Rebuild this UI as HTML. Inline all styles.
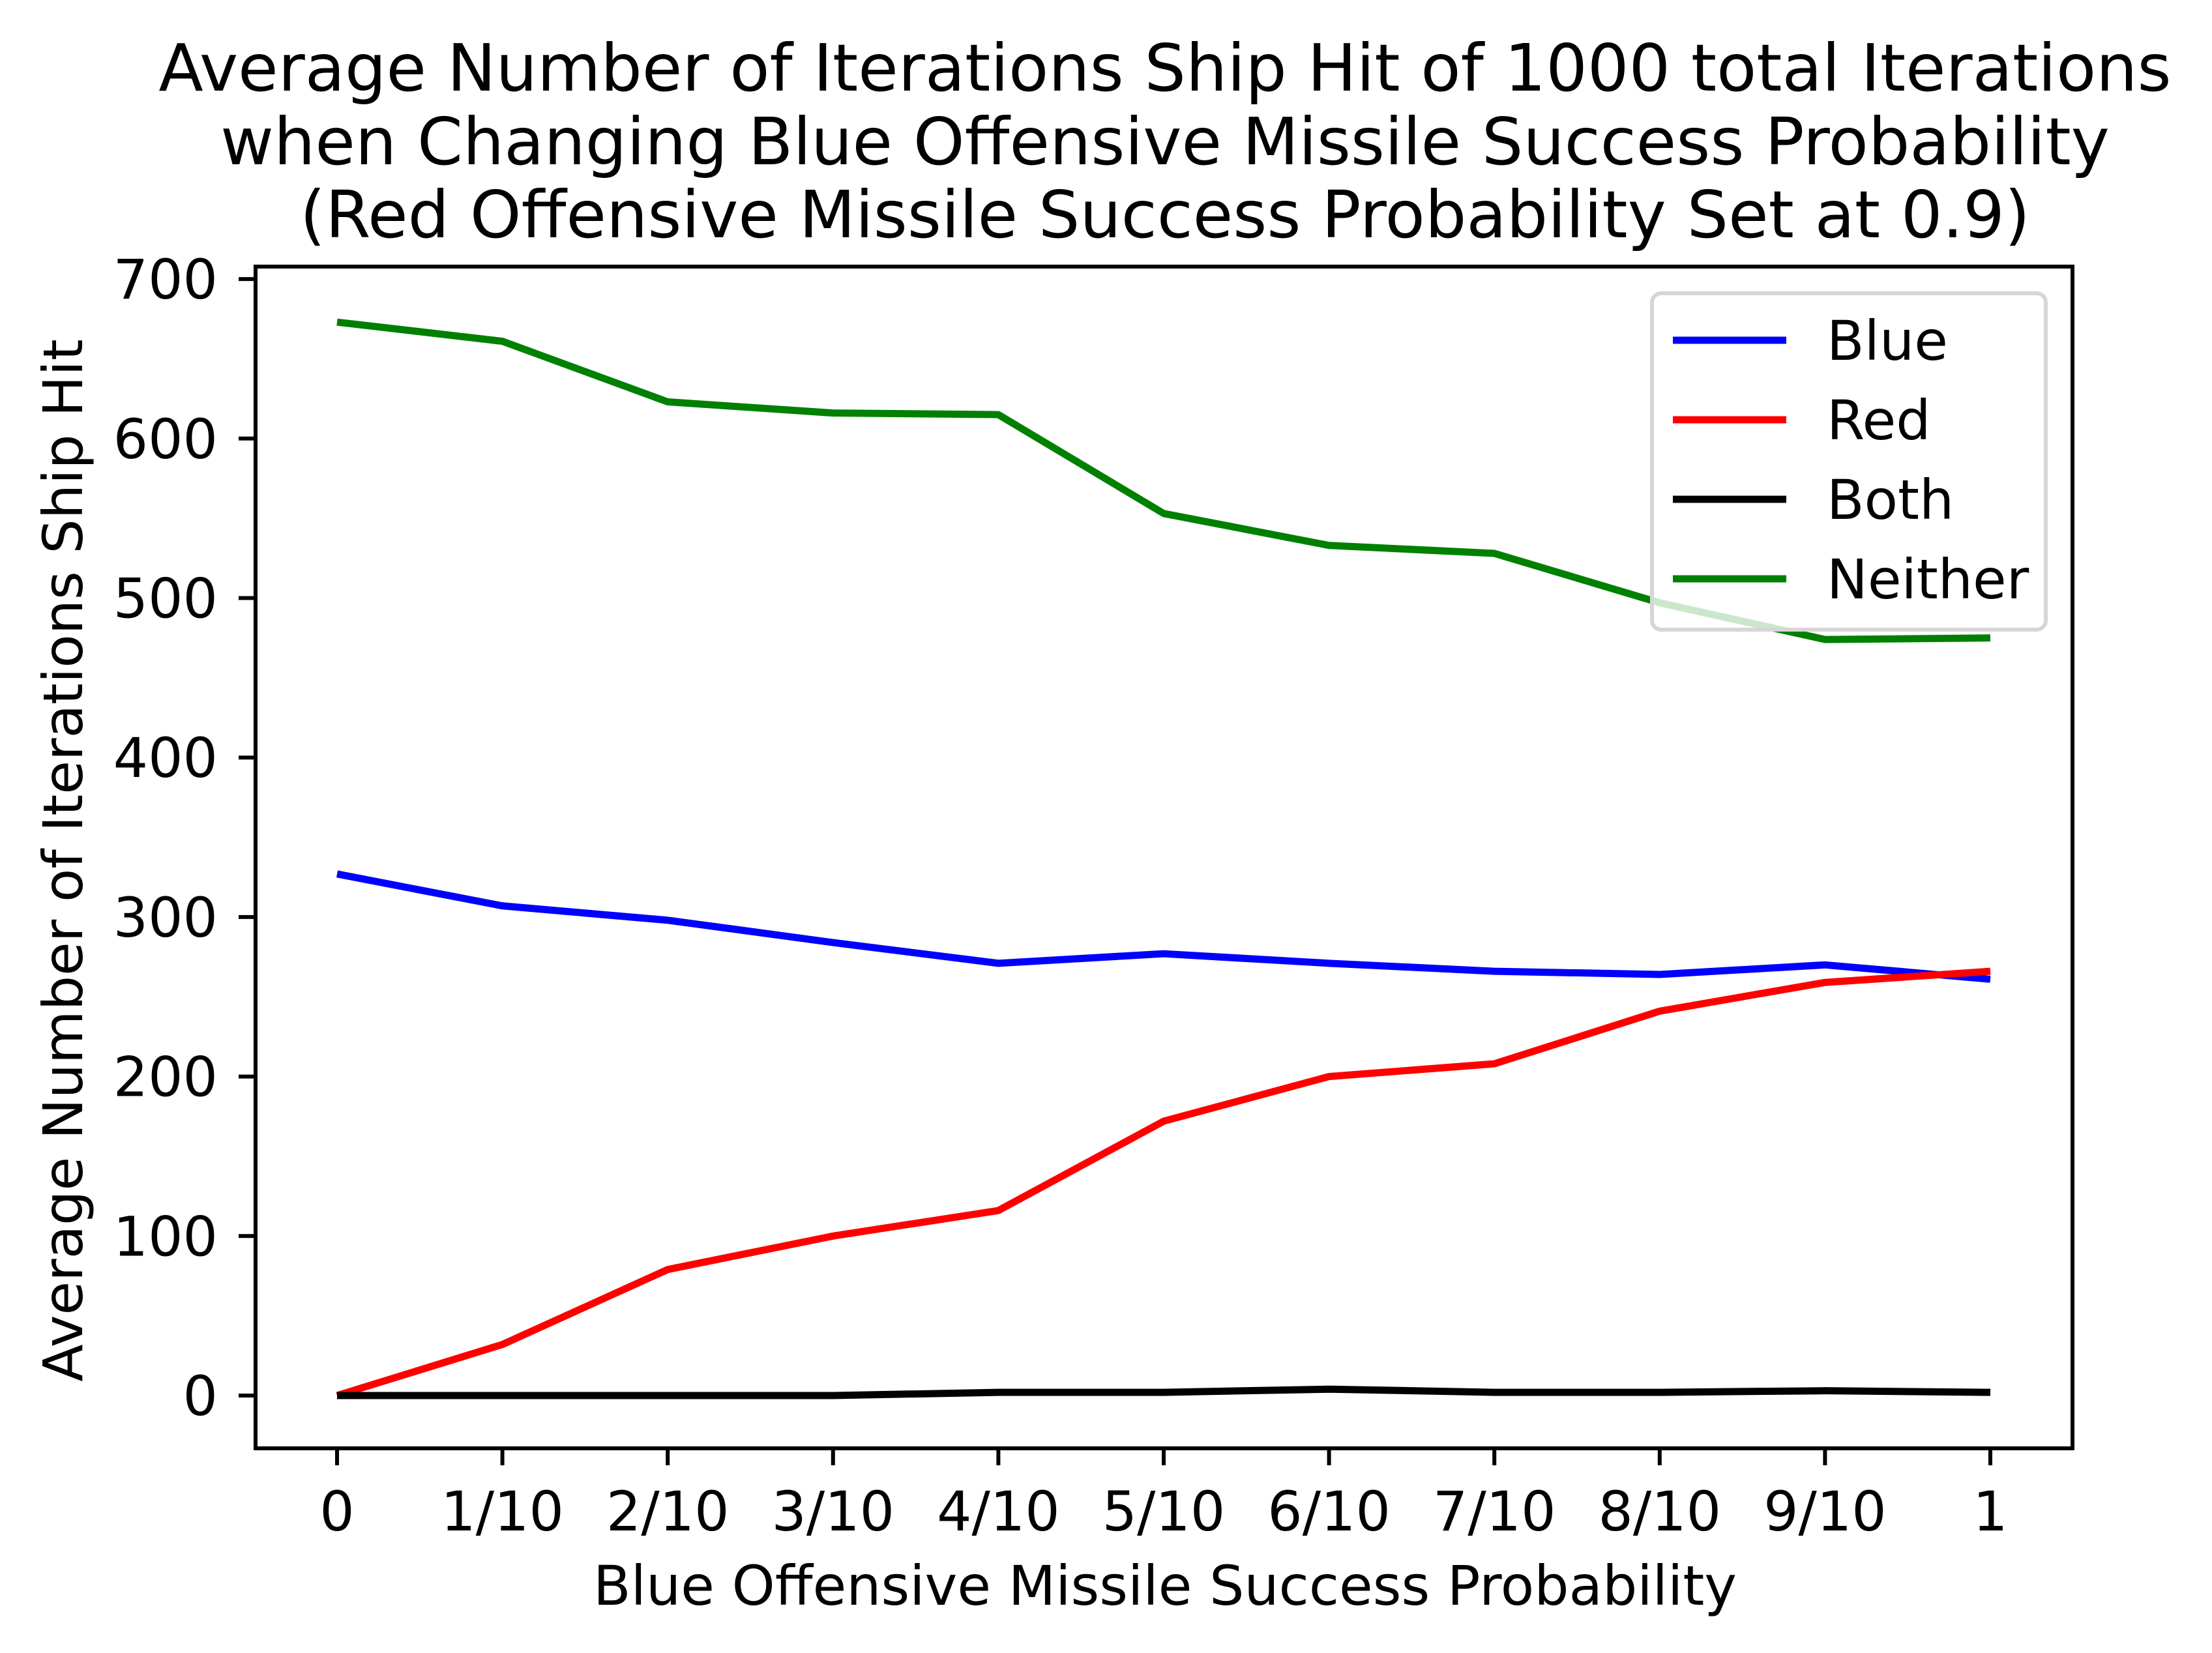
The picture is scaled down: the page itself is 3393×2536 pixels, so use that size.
<!DOCTYPE html>
<html><head><meta charset="utf-8"><style>
html,body{margin:0;padding:0;background:#fff;}
svg{display:block;font-family:"DejaVu Sans","Liberation Sans",sans-serif;}
</style></head><body>
<svg id="chart" width="3393" height="2536" viewBox="0 0 3393 2536" xmlns="http://www.w3.org/2000/svg">
<g font-size="100" text-anchor="middle" fill="#000">
<text x="1787" y="139">Average Number of Iterations Ship Hit of 1000 total Iterations</text>
<text x="1787" y="252">when Changing Blue Offensive Missile Success Probability</text>
<text x="1787" y="364">(Red Offensive Missile Success Probability Set at 0.9)</text>
</g>
<g id="plot"></g>
<rect x="392" y="409" width="2787" height="1813" fill="none" stroke="#000" stroke-width="6"/>
<text x="1787" y="2462" font-size="84" text-anchor="middle">Blue Offensive Missile Success Probability</text>
<text x="0" y="0" font-size="84" text-anchor="middle" transform="translate(126,1320) rotate(-90)">Average Number of Iterations Ship Hit</text>
<g>
<rect x="2534" y="450" width="604" height="516" rx="14" fill="#fff" fill-opacity="0.8" stroke="#d6d6d6" stroke-width="6"/>
<g id="legend-items"></g>
</g>
</svg>
<script>
const categories = ["0","1/10","2/10","3/10","4/10","5/10","6/10","7/10","8/10","9/10","1"];
const blueValues = [327,307,298,284,271,277,271,266,264,270,261];
const redValues = [0,32,79,100,116,172,200,208,241,259,266];
const bothValues = [0,0,0,0,2,2,4,2,2,3,2];
const neitherValues = [673,661,623,616,615,553,533,528,497,474,475];
const yTicks = [0,100,200,300,400,500,600,700];
const seriesNames = ["Blue","Red","Both","Neither"];

const NS="http://www.w3.org/2000/svg";
const plot=document.getElementById('plot');
function xScale(i){return 517+i*253.6;}
function yScale(v){return 2141-v*2.447;}
function mk(tag,attrs){const e=document.createElementNS(NS,tag);for(const k in attrs)e.setAttribute(k,attrs[k]);return e;}

yTicks.forEach(function(t){
  const g=mk('g',{});
  
  
  g.appendChild(mk('line',{x1:366,x2:392,y1:yScale(t),y2:yScale(t),stroke:'#000','stroke-width':6}));
  const tx=mk('text',{x:334,y:yScale(t)+30,'font-size':84,'text-anchor':'end'});
  tx.textContent=t;
  g.appendChild(tx);
  plot.appendChild(g);
});
categories.forEach(function(c,i){
  const g=mk('g',{});
  
  
  g.appendChild(mk('line',{x1:xScale(i),x2:xScale(i),y1:2222,y2:2248,stroke:'#000','stroke-width':6}));
  const tx=mk('text',{x:xScale(i),y:2348,'font-size':84,'text-anchor':'middle'});
  tx.textContent=c;
  g.appendChild(tx);
  plot.appendChild(g);
});
const seriesList=[[blueValues,'#0000ff'],[redValues,'#ff0000'],[bothValues,'#000000'],[neitherValues,'#008000']];
seriesList.forEach(function(s,k){
  const pts=s[0].map(function(v,i){return xScale(i)+','+yScale(v);}).join(' ');
  const pl=mk('polyline',{points:pts,fill:'none',stroke:s[1],'stroke-width':11,'stroke-linejoin':'round'});
  
  
  plot.appendChild(pl);
});
const li=document.getElementById('legend-items');
seriesList.forEach(function(s,k){
  const y=522+k*122;
  const g=mk('g',{});
  
  
  g.appendChild(mk('line',{x1:2566,x2:2740,y1:y,y2:y,stroke:s[1],'stroke-width':11}));
  const tx=mk('text',{x:2802,y:y+30,'font-size':84});
  tx.textContent=seriesNames[k];
  g.appendChild(tx);
  li.appendChild(g);
});
</script>
</body></html>
